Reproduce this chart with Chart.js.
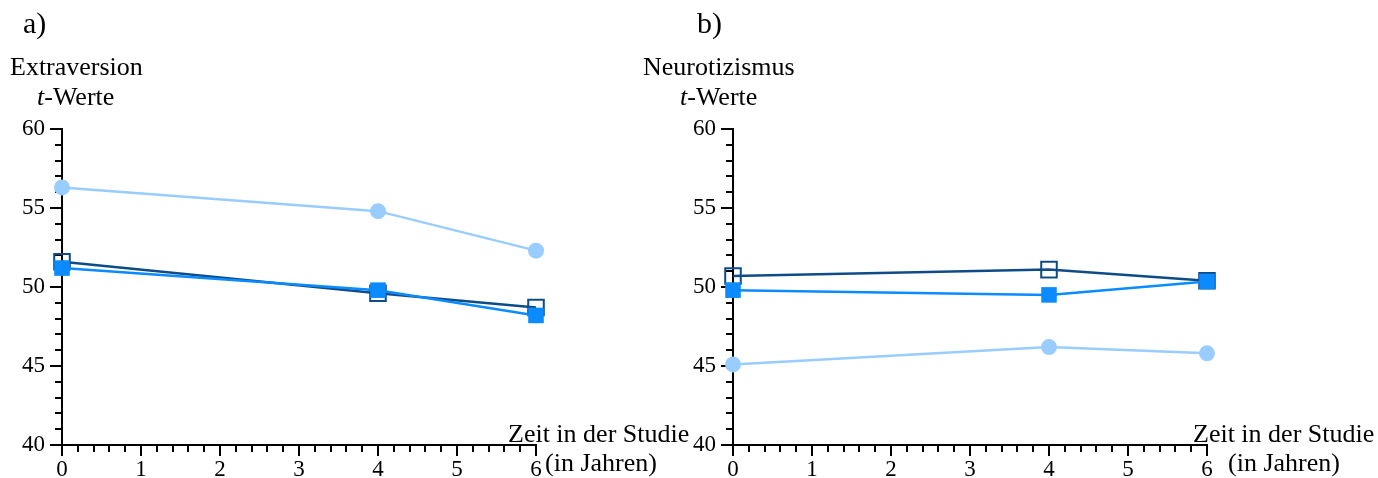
<!DOCTYPE html>
<html>
<head>
<meta charset="utf-8">
<script src="https://cdn.jsdelivr.net/npm/chart.js@4/dist/chart.umd.min.js"></script>
<style>
  html, body { margin: 0; padding: 0; background: #fff; }
  body { width: 1378px; height: 478px; position: relative; overflow: hidden; }
  canvas { position: absolute; top: 0; }
</style>
</head>
<body>
<canvas id="panelA" width="700" height="478" style="left:0px"></canvas>
<canvas id="panelB" width="778" height="478" style="left:600px"></canvas>
<script>
// Measurement years and axis ranges
const years = [0, 4, 6];
const xRange = [0, 6];
const yRange = [40, 60];

// Extraversion (t-Werte)
const extraversionCircle = [56.3, 54.8, 52.3];
const extraversionOpen   = [51.6, 49.6, 48.7];
const extraversionFilled = [51.2, 49.8, 48.2];

// Neurotizismus (t-Werte)
const neuroCircle = [45.1, 46.2, 45.8];
const neuroOpen   = [50.7, 51.1, 50.4];
const neuroFilled = [49.8, 49.5, 50.35];

const SERIF = '"Liberation Serif", "Times New Roman", serif';
const LIGHT = '#99ccff';
const BRIGHT = '#0a8bff';
const DARK = '#0f4c87';

// Minor/major tick marks drawn from the scales
const tickMarks = {
  id: 'tickMarks',
  beforeDatasetsDraw(chart) {
    const { ctx, chartArea, scales } = chart;
    const xs = scales.x, ys = scales.y;
    ctx.save();
    ctx.strokeStyle = '#000';
    ctx.lineWidth = 2;
    ctx.beginPath();
    for (let i = 0; i <= (xRange[1] - xRange[0]) * 5; i++) {
      const v = xRange[0] + i / 5;
      const px = Math.round(xs.getPixelForValue(v));
      const len = i % 5 === 0 ? 11 : 7;
      ctx.moveTo(px, chartArea.bottom);
      ctx.lineTo(px, chartArea.bottom + len);
    }
    for (let v = yRange[0]; v <= yRange[1]; v++) {
      const py = Math.round(ys.getPixelForValue(v));
      const len = v % 5 === 0 ? 12 : 7;
      ctx.moveTo(chartArea.left, py);
      ctx.lineTo(chartArea.left - len, py);
    }
    ctx.stroke();
    ctx.restore();
  }
};

// Panel letter, variable name and axis captions
const captions = {
  id: 'captions',
  afterDraw(chart, args, opts) {
    const ctx = chart.ctx;
    const off = opts.offset;
    ctx.save();
    ctx.fillStyle = '#000';
    ctx.textBaseline = 'alphabetic';
    ctx.textAlign = 'left';
    ctx.font = '30px ' + SERIF;
    ctx.fillText(opts.letter, opts.letterX - off, 33);
    ctx.font = '26px ' + SERIF;
    ctx.fillText(opts.name, opts.nameX - off, 75);
    // t-Werte with an italic t
    ctx.font = 'italic 26px ' + SERIF;
    ctx.fillText('t', opts.unitX - off, 105);
    const tw = ctx.measureText('t').width;
    ctx.font = '26px ' + SERIF;
    ctx.fillText('-Werte', opts.unitX - off + tw, 105);
    ctx.fillText('Zeit in der Studie', opts.xTitleX - off, 442);
    ctx.fillText('(in Jahren)', opts.xUnitX - off, 471);
    ctx.restore();
  }
};

function makePanel(id, circle, open, filled, cfg) {
  const pts = arr => years.map((x, i) => ({ x, y: arr[i] }));
  return new Chart(document.getElementById(id), {
    type: 'line',
    data: {
      datasets: [
        { label: 'Reihe 1', data: pts(circle), borderColor: LIGHT, backgroundColor: LIGHT,
          borderWidth: 2.5, pointStyle: 'circle', pointRadius: 8, pointBorderWidth: 0, clip: false },
        { label: 'Reihe 2', data: pts(filled), borderColor: BRIGHT, backgroundColor: BRIGHT,
          borderWidth: 2.5, pointStyle: 'rect', pointRadius: 11, pointBorderWidth: 0, clip: false },
        { label: 'Reihe 3', data: pts(open), borderColor: DARK, backgroundColor: 'rgba(255,255,255,0)',
          pointBorderColor: DARK, borderWidth: 2.5, pointStyle: 'rect', pointRadius: 11,
          pointBorderWidth: 2, clip: false }
      ]
    },
    options: {
      responsive: false,
      animation: false,
      devicePixelRatio: 1,
      layout: { padding: { left: 0, top: 129, right: cfg.padRight, bottom: 0 } },
      plugins: {
        legend: { display: false },
        tooltip: { enabled: false },
        captions: cfg.captions
      },
      scales: {
        x: {
          type: 'linear', min: xRange[0], max: xRange[1],
          ticks: { stepSize: 1, color: '#000', padding: 11, font: { family: SERIF, size: 23 } },
          grid: { display: true, drawOnChartArea: false, drawTicks: false },
          border: { display: true, color: '#000', width: 2 },
          afterFit: s => { s.height = 33; }
        },
        y: {
          type: 'linear', min: yRange[0], max: yRange[1],
          ticks: { stepSize: 5, color: '#000', padding: 17, font: { family: SERIF, size: 23 } },
          grid: { display: true, drawOnChartArea: false, drawTicks: false },
          border: { display: true, color: '#000', width: 2 },
          afterFit: s => { s.width = cfg.yWidth; }
        }
      }
    },
    plugins: [tickMarks, captions]
  });
}

makePanel('panelA', extraversionCircle, extraversionOpen, extraversionFilled, {
  yWidth: 62, padRight: 164,
  captions: { offset: 0, letter: 'a)', letterX: 23, name: 'Extraversion', nameX: 10,
              unitX: 37, xTitleX: 508, xUnitX: 545 }
});

makePanel('panelB', neuroCircle, neuroOpen, neuroFilled, {
  yWidth: 133, padRight: 171,
  captions: { offset: 600, letter: 'b)', letterX: 697, name: 'Neurotizismus', nameX: 643,
              unitX: 680, xTitleX: 1193, xUnitX: 1228 }
});
</script>
</body>
</html>
